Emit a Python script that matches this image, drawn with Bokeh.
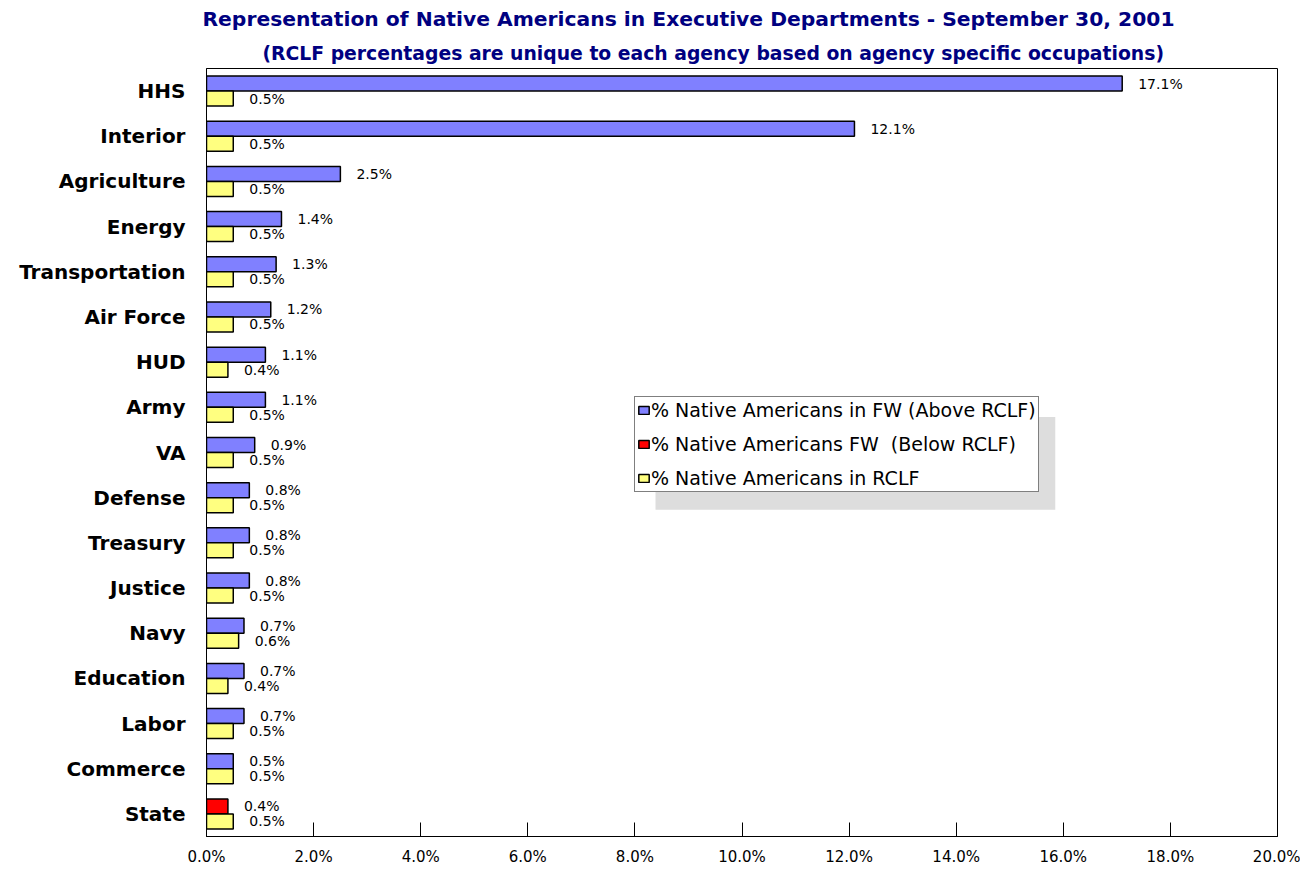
from bokeh.plotting import figure
from bokeh.models import (ColumnDataSource, FactorRange, Legend, LegendItem, Title,
                          PrintfTickFormatter, FixedTicker)
from bokeh.transform import dodge
from bokeh.core.properties import value
from bokeh.embed import file_html
from bokeh.resources import INLINE

agencies = ["HHS", "Interior", "Agriculture", "Energy", "Transportation", "Air Force",
            "HUD", "Army", "VA", "Defense", "Treasury", "Justice", "Navy", "Education",
            "Labor", "Commerce", "State"]
fw_pct = [17.1, 12.1, 2.5, 1.4, 1.3, 1.2, 1.1, 1.1, 0.9, 0.8, 0.8, 0.8, 0.7, 0.7, 0.7, 0.5, 0.4]
rclf_pct = [0.5, 0.5, 0.5, 0.5, 0.5, 0.5, 0.4, 0.5, 0.5, 0.5, 0.5, 0.5, 0.6, 0.4, 0.5, 0.5, 0.5]
x_ticks = [0, 2, 4, 6, 8, 10, 12, 14, 16, 18, 20]

FONT = "DejaVu Sans"
BLUE, RED, YELLOW = "#8080FF", "#FF0000", "#FFFF80"

above_idx = [i for i in range(len(agencies)) if fw_pct[i] >= rclf_pct[i]]
below_idx = [i for i in range(len(agencies)) if fw_pct[i] < rclf_pct[i]]

def mk(idx):
    return ColumnDataSource(dict(
        agency=[agencies[i] for i in idx],
        fw=[fw_pct[i] for i in idx],
        lbl=["%.1f%%" % fw_pct[i] for i in idx]))

src_above = mk(above_idx)
src_below = mk(below_idx)
src_rclf = ColumnDataSource(dict(agency=agencies, rclf=rclf_pct,
                                 lbl=["%.1f%%" % v for v in rclf_pct]))

W, H = 1300, 868
p = figure(width=W, height=H, output_backend="svg", toolbar_location=None,
           y_range=FactorRange(factors=agencies[::-1], range_padding=0),
           x_range=(0, 20),
           min_border_left=206, min_border_right=W - 1277, min_border_bottom=H - 837,
           min_border_top=60)
p.title = None

BAR_H = 0.332
OFF = 0.166
r_above = p.hbar(y=dodge("agency", OFF, range=p.y_range), right="fw", left=0, height=BAR_H,
                 source=src_above, fill_color=BLUE, line_color="black", line_width=1.5)
r_below = p.hbar(y=dodge("agency", OFF, range=p.y_range), right="fw", left=0, height=BAR_H,
                 source=src_below, fill_color=RED, line_color="black", line_width=1.5)
r_rclf = p.hbar(y=dodge("agency", -OFF, range=p.y_range), right="rclf", left=0, height=BAR_H,
                source=src_rclf, fill_color=YELLOW, line_color="black", line_width=1.5)

for src, col, off in [(src_above, "fw", OFF), (src_below, "fw", OFF), (src_rclf, "rclf", -OFF)]:
    p.text(x=col, y=dodge("agency", off, range=p.y_range), text="lbl", source=src,
           x_offset=16, text_align="left", text_baseline="middle",
           text_font_size="14px", text_font=value(FONT), text_color="black")

# axes
p.xgrid.visible = False
p.ygrid.visible = False
p.outline_line_color = "black"
p.outline_line_width = 1

xa = p.xaxis[0]
xa.ticker = FixedTicker(ticks=x_ticks)
xa.formatter = PrintfTickFormatter(format="%.1f%%")
xa.major_tick_in = 14
xa.major_tick_out = 0
xa.minor_tick_line_color = None
xa.major_label_text_font = FONT
xa.major_label_text_font_size = "15px"
xa.major_label_text_color = "black"
xa.major_label_standoff = 11
xa.axis_line_color = "black"

ya = p.yaxis[0]
ya.major_tick_in = 0
ya.major_tick_out = 0
ya.minor_tick_line_color = None
ya.major_label_text_font = FONT
ya.major_label_text_font_style = "bold"
ya.major_label_text_font_size = "20px"
ya.major_label_text_color = "black"
ya.major_label_standoff = 21
ya.axis_line_color = "black"

# legend shadow
p.quad(left=8.385, right=15.85, bottom=7.23, top=9.285,
       fill_color="#DDDDDD", line_color=None, level="underlay")

legend = Legend(items=[
    LegendItem(label="% Native Americans in FW (Above RCLF)", renderers=[r_above]),
    LegendItem(label="% Native Americans FW  (Below RCLF)", renderers=[r_below]),
    LegendItem(label="% Native Americans in RCLF", renderers=[r_rclf]),
], location=(428, 344), orientation="vertical")
legend.label_text_font = FONT
legend.label_text_font_size = "19px"
legend.label_text_color = "black"
legend.label_standoff = 1
legend.label_height = 19
legend.glyph_width = 13
legend.glyph_height = 10
legend.spacing = 12
legend.padding = 2
legend.margin = 0
legend.border_line_color = "black"
legend.border_line_width = 1
legend.background_fill_color = "white"
legend.background_fill_alpha = 1
p.add_layout(legend, "center")

t2 = Title(text="(RCLF percentages are unique to each agency based on agency specific occupations)",
           text_font=FONT, text_font_style="bold", text_font_size="18.8px",
           text_color="#000080", align="left", offset=56, standoff=10)
t1 = Title(text="Representation of Native Americans in Executive Departments - September 30, 2001",
           text_font=FONT, text_font_style="bold", text_font_size="20.3px",
           text_color="#000080", align="left", offset=-4, standoff=9)
p.add_layout(t2, "above")
p.add_layout(t1, "above")

open("out.html", "w").write(file_html(p, INLINE))
